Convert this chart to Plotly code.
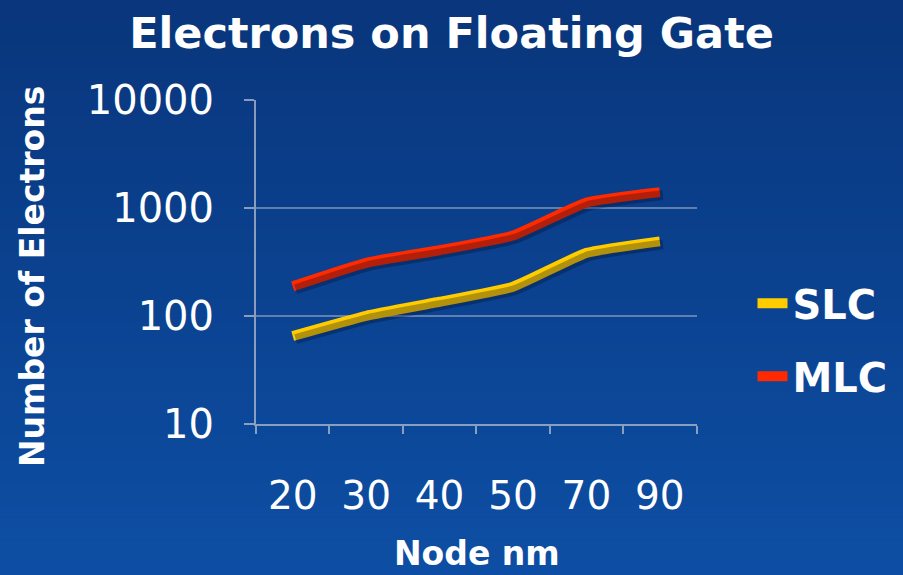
import plotly.graph_objects as go

# ---- data ----
nodes = ["20", "30", "40", "50", "70", "90"]
slc = [65, 100, 135, 186, 383, 490]
mlc = [188, 310, 405, 555, 1120, 1400]
y_tick_vals = [10, 100, 1000, 10000]
y_tick_text = ["10", "100", "1000", "10000"]

FONT = "DejaVu Sans"
WHITE = "#FFFFFF"

# ---- geometry ----
W = 441 / 0.99
H = 324 / 0.99
L = 256
T = 100
R = 903 - L - W
B = 575 - T - H
dx = 3 / W
dy = 3 / H

fig = go.Figure()

# soft drop shadows (same data, drawn on a slightly offset hidden axis pair)
for vals in (slc, mlc):
    fig.add_trace(go.Scatter(
        x=nodes, y=vals, mode="lines", showlegend=False, hoverinfo="skip",
        line=dict(color="rgba(0,10,40,0.30)", width=10, shape="spline", smoothing=0.4),
        xaxis="x2", yaxis="y2"))

fig.add_trace(go.Scatter(
    x=nodes, y=slc, name="SLC", mode="lines", legendgroup="a",
    line=dict(color="#FFCC00", width=10, shape="spline", smoothing=0.4)))
fig.add_trace(go.Scatter(
    x=nodes, y=mlc, name="MLC", mode="lines", legendgroup="b",
    line=dict(color="#FF2A00", width=10, shape="spline", smoothing=0.4)))

# gradient background (bands over the whole figure, in paper units)
top = (9, 54, 124)
bot = (13, 78, 164)
n = 50
y_hi = 1 + T / H
y_lo = -B / H
shapes = []
for i in range(n):
    t = i / (n - 1)
    c = tuple(round(top[k] + (bot[k] - top[k]) * t) for k in range(3))
    y1 = y_hi - (y_hi - y_lo) * i / n
    y0 = y_hi - (y_hi - y_lo) * (i + 1) / n
    if i == 0:
        y1 += 0.2
    if i == n - 1:
        y0 -= 0.2
    shapes.append(dict(type="rect", xref="paper", yref="paper", layer="below",
                       x0=-1, x1=2, y0=y0 - 0.002, y1=y1,
                       fillcolor="rgb(%d,%d,%d)" % c, line=dict(width=0)))

axis_line = "rgba(170,180,200,0.8)"
grid = "rgba(200,205,215,0.45)"

annotations = [
    dict(text="<b>Number of Electrons</b>", textangle=-90, xref="paper", yref="paper",
         x=(33 - L) / W, y=(575 - B - 277) / H, xanchor="center", yanchor="middle",
         showarrow=False, font=dict(family=FONT, size=33, color=WHITE)),
    dict(text="<b>Node nm</b>", xref="paper", yref="paper",
         x=(477 - L) / W, y=(575 - B - 554) / H, xanchor="center", yanchor="middle",
         showarrow=False, font=dict(family=FONT, size=33, color=WHITE)),
]

fig.update_layout(
    width=903, height=575,
    margin=dict(l=L, r=R, t=T, b=B, pad=0, autoexpand=False),
    paper_bgcolor="#0b4392", plot_bgcolor="rgba(0,0,0,0)",
    shapes=shapes,
    annotations=annotations,
    title=dict(text="<b>Electrons on Floating Gate</b>", x=0.5, xref="container", xanchor="center",
               y=1 - 33 / 575, yanchor="middle", yref="container",
               font=dict(family=FONT, size=43, color=WHITE)),
    font=dict(family=FONT, color=WHITE),
    xaxis=dict(type="category", range=[-0.5, 5.5], domain=[0, 0.99], automargin=False,
               showgrid=False, showline=True, linecolor=axis_line, linewidth=2,
               ticks="outside", ticklen=8, tickcolor=axis_line, tickwidth=2,
               tickson="boundaries", ticklabelstandoff=36,
               tickfont=dict(family=FONT, size=39, color=WHITE)),
    yaxis=dict(type="log", range=[1, 4], domain=[0.01, 1], automargin=False,
               tickvals=y_tick_vals, ticktext=y_tick_text,
               showgrid=True, gridcolor=grid, gridwidth=2,
               showline=True, linecolor=axis_line, linewidth=2,
               ticks="outside", ticklen=10, tickcolor=axis_line, tickwidth=2,
               ticklabelstandoff=22, zeroline=False,
               tickfont=dict(family=FONT, size=40, color=WHITE)),
    xaxis2=dict(type="category", range=[-0.5, 5.5], domain=[dx, 0.99 + dx], visible=False,
                anchor="y2", automargin=False),
    yaxis2=dict(type="log", range=[1, 4], domain=[0.01 - dy, 1 - dy], visible=False,
                anchor="x2", automargin=False),
    legend=dict(x=(753 - L) / W, xanchor="left", xref="paper",
                y=(575 - B - 340) / H, yanchor="middle", yref="paper",
                bgcolor="rgba(0,0,0,0)", tracegroupgap=18, traceorder="grouped",
                font=dict(family=FONT, size=40, color=WHITE, weight="bold")),
    showlegend=True,
)

fig.write_html("out.html", config={"displayModeBar": False},
               post_script="document.body.style.margin='0px';document.body.style.overflow='hidden';")
